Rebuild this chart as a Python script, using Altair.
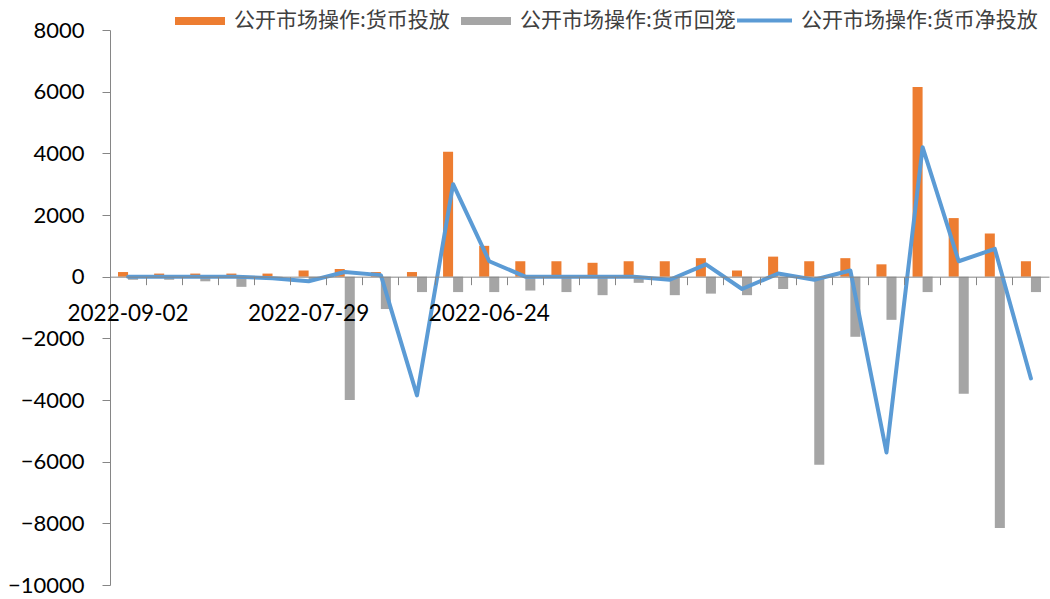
import altair as alt
import pandas as pd

# Weekly open-market operations (亿元), most recent week first
dates = [
    "2022-09-02", "2022-08-26", "2022-08-19", "2022-08-12", "2022-08-05",
    "2022-07-29", "2022-07-22", "2022-07-15", "2022-07-08", "2022-07-01",
    "2022-06-24", "2022-06-17", "2022-06-10", "2022-06-03", "2022-05-27",
    "2022-05-20", "2022-05-13", "2022-05-06", "2022-04-29", "2022-04-22",
    "2022-04-15", "2022-04-08", "2022-04-01", "2022-03-25", "2022-03-18",
    "2022-03-11",
]
shown_dates = ["2022-09-02", "2022-07-29", "2022-06-24"]

injection = [150, 100, 100, 100, 100, 200, 250, 150, 150, 4050,
             1000, 500, 500, 450, 500, 500, 600, 200, 650, 500,
             600, 400, 6150, 1900, 1400, 500]
withdrawal = [-100, -100, -150, -330, -100, -100, -4000, -1050, -500, -500,
              -500, -450, -500, -600, -200, -600, -550, -600, -400, -6100,
              -1950, -1400, -500, -3800, -8150, -500]
net_injection = [0, 0, 0, 0, -50, -150, 150, 50, -3850, 3000,
                 500, 0, 0, 0, 0, -100, 400, -400, 100, -100,
                 200, -5700, 4200, 500, 900, -3300]

S_IN = "公开市场操作:货币投放"
S_OUT = "公开市场操作:货币回笼"
S_NET = "公开市场操作:货币净投放"

ORANGE = "#ED7D31"
GRAY = "#A5A5A5"
BLUE = "#5B9BD5"
AXIS_GRAY = "#868686"

n = len(dates)
bars_df = pd.DataFrame({
    "date": dates * 2,
    "series": [S_IN] * n + [S_OUT] * n,
    "value": injection + withdrawal,
})
line_df = pd.DataFrame({"date": dates, "series": [S_NET] * n, "value": net_injection})

W, H = 939, 555
Y_MIN, Y_MAX = -10000, 8000
zero_offset = -(H * (0 - Y_MIN) / (Y_MAX - Y_MIN))  # lift x axis onto the zero line

label_expr = (
    "indexof([" + ",".join(f"'{d}'" for d in shown_dates) + "], datum.value) >= 0"
    " ? datum.value : ''"
)

x_enc = alt.X(
    "date:N",
    sort=dates,
    scale=alt.Scale(paddingInner=0, paddingOuter=0),
    axis=alt.Axis(
        title=None,
        orient="bottom",
        offset=zero_offset,
        bandPosition=0,
        labelExpr=label_expr,
        labelOverlap=False,
        labelAngle=0,
        labelFont="Lato",
        labelFontSize=22.5,
        labelColor="#000000",
        labelPadding=18,
        tickSize=8,
        tickColor=AXIS_GRAY,
        domainColor=AXIS_GRAY,
        domainWidth=1,
        zindex=1,
    ),
)

y_enc_axis = alt.Axis(
    title=None,
    values=list(range(Y_MIN, Y_MAX + 1, 2000)),
    format="d",
    tickSize=8,
    tickColor=AXIS_GRAY,
    domainColor=AXIS_GRAY,
    labelFont="Lato",
    labelFontSize=22,
    labelColor="#000000",
    labelPadding=18,
)
y_scale = alt.Scale(domain=[Y_MIN, Y_MAX], nice=False, zero=False)

legend_common = dict(
    title=None,
    orient="none",
    direction="horizontal",
    labelFont="Noto Sans CJK SC",
    labelFontSize=21,
    labelColor="#404040",
    labelLimit=400,
    padding=0,
)

bars = alt.Chart(bars_df).mark_bar().encode(
    x=x_enc,
    xOffset=alt.XOffset(
        "series:N",
        sort=[S_IN, S_OUT],
        scale=alt.Scale(paddingInner=0, paddingOuter=0.8),
    ),
    y=alt.Y("value:Q", scale=y_scale, axis=y_enc_axis),
    color=alt.Color(
        "series:N",
        sort=[S_IN, S_OUT],
        scale=alt.Scale(domain=[S_IN, S_OUT], range=[ORANGE, GRAY]),
        legend=alt.Legend(
            legendX=65,
            legendY=-34,
            symbolType="M-1,-0.16H1V0.16H-1Z",
            symbolSize=2500,
            symbolStrokeWidth=0,
            symbolOpacity=1,
            labelOffset=9,
            columnPadding=11,
            **legend_common,
        ),
    ),
)

line = alt.Chart(line_df).mark_line(
    strokeWidth=4, strokeJoin="round", strokeCap="round"
).encode(
    x=alt.X("date:N", sort=dates),
    y=alt.Y("value:Q", scale=y_scale),
    color=alt.Color(
        "series:N",
        scale=alt.Scale(domain=[S_NET], range=[BLUE]),
        legend=alt.Legend(
            legendX=625,
            legendY=-39,
            symbolType="stroke",
            symbolSize=3025,
            symbolStrokeWidth=4,
            symbolOpacity=1,
            labelOffset=7,
            **legend_common,
        ),
    ),
)

chart = (
    alt.layer(bars, line)
    .resolve_scale(color="independent")
    .properties(
        width=W,
        height=H,
        autosize=alt.AutoSizeParams(type="none"),
        padding={"left": 110, "top": 30, "right": 1, "bottom": 14},
        background="#ffffff",
    )
    .configure_axis(grid=False)
    .configure_view(stroke=None)
)

chart.save("out.html", embed_options={"renderer": "svg", "actions": False})
